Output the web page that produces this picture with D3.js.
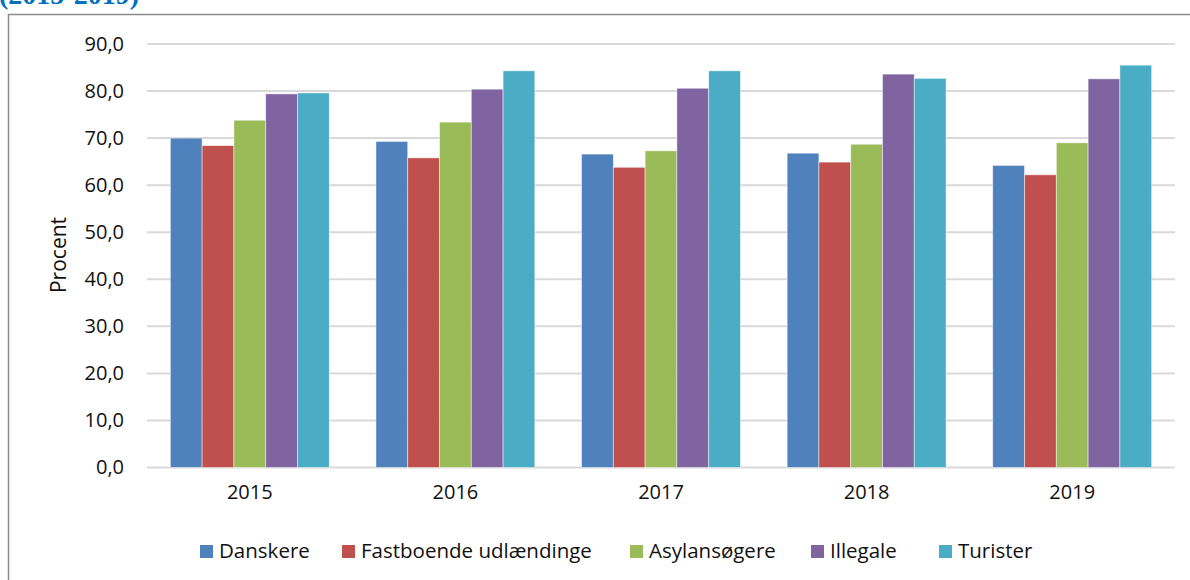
<!DOCTYPE html>
<html>
<head>
<meta charset="utf-8">
<script src="https://cdn.jsdelivr.net/npm/d3@7"></script>
<style>
  body { margin: 0; background: #fff; }
  svg { display: block; font-family: "Open Sans", sans-serif; }
</style>
</head>
<body>
<script>
var years = ["2015", "2016", "2017", "2018", "2019"];
var groups = ["Danskere", "Fastboende udlændinge", "Asylansøgere", "Illegale", "Turister"];
var danskere = [70.0, 69.3, 66.6, 66.8, 64.2];
var fastboende = [68.4, 65.8, 63.8, 64.9, 62.2];
var asyl = [73.8, 73.4, 67.3, 68.7, 69.0];
var illegale = [79.4, 80.4, 80.6, 83.6, 82.6];
var turister = [79.6, 84.3, 84.3, 82.7, 85.5];
var yTicks = [0, 10, 20, 30, 40, 50, 60, 70, 80, 90];

var series = [danskere, fastboende, asyl, illegale, turister];
var colors = ["#4F81BD", "#C0504D", "#9BBB59", "#8064A2", "#4BACC6"];

var width = 1190, height = 580;
var plotLeft = 147, plotRight = 1175, plotTop = 44, plotBottom = 467.5;

var svg = d3.select("body").append("svg")
    .attr("width", width)
    .attr("height", height);

// cut-off heading above the frame
svg.append("text")
    .attr("x", -1)
    .attr("y", 4)
    .attr("font-family", "Liberation Serif, serif")
    .attr("font-weight", "bold")
    .attr("font-size", 28)
    .attr("fill", "#0070C0")
    .text("(2015-2019)");

// chart frame
svg.append("rect")
    .attr("x", 8.5)
    .attr("y", 14.5)
    .attr("width", 1200)
    .attr("height", 600)
    .attr("fill", "none")
    .attr("stroke", "#8c8c8c")
    .attr("stroke-width", 1.5);

var x0 = d3.scaleBand()
    .domain(years)
    .range([plotLeft, plotRight])
    .paddingInner(0.227)
    .paddingOuter(0.1135);

var x1 = d3.scaleBand()
    .domain(d3.range(groups.length))
    .range([0, x0.bandwidth()]);

var y = d3.scaleLinear()
    .domain([0, 90])
    .range([plotBottom, plotTop]);

// gridlines
svg.append("g")
    .selectAll("line")
    .data(yTicks)
    .enter()
    .append("line")
    .attr("x1", plotLeft)
    .attr("x2", plotRight)
    .attr("y1", function(d) { return y(d); })
    .attr("y2", function(d) { return y(d); })
    .attr("stroke", "#d9d9d9")
    .attr("stroke-width", 2);

// y axis labels
var yAxis = d3.axisLeft(y)
    .tickValues(yTicks)
    .tickSize(0)
    .tickPadding(0)
    .tickFormat(function(d) { return d3.format(".1f")(d).replace(".", ","); });

svg.append("g")
    .attr("transform", "translate(124,0)")
    .call(yAxis)
    .call(function(g) { g.select(".domain").remove(); })
    .selectAll("text")
    .attr("font-family", "Open Sans, sans-serif")
    .attr("font-size", 20)
    .attr("fill", "#111");

// x axis labels
var xAxis = d3.axisBottom(x0).tickSize(0).tickPadding(0);
svg.append("g")
    .attr("transform", "translate(0,485)")
    .call(xAxis)
    .call(function(g) { g.select(".domain").remove(); })
    .selectAll("text")
    .attr("font-family", "Open Sans, sans-serif")
    .attr("font-size", 20)
    .attr("fill", "#111");

// bars
var yearG = svg.selectAll(".year")
    .data(years)
    .enter()
    .append("g")
    .attr("class", "year")
    .attr("transform", function(d) { return "translate(" + x0(d) + ",0)"; });

yearG.selectAll("rect")
    .data(function(d, i) {
        return series.map(function(s, j) { return {k: j, v: s[i]}; });
    })
    .enter()
    .append("rect")
    .attr("x", function(d) { return x1(d.k); })
    .attr("width", x1.bandwidth())
    .attr("y", function(d) { return y(d.v); })
    .attr("height", function(d) { return plotBottom - y(d.v); })
    .attr("fill", function(d) { return colors[d.k]; })
    .attr("stroke", "#ffffff")
    .attr("stroke-opacity", 0.6)
    .attr("stroke-width", 0.8);

// y title
svg.append("text")
    .attr("transform", "translate(66,255) rotate(-90)")
    .attr("text-anchor", "middle")
    .attr("font-size", 21)
    .attr("fill", "#111")
    .text("Procent");

// legend
var legendX = [200, 342, 630, 811, 939];
var legend = svg.selectAll(".legend")
    .data(groups)
    .enter()
    .append("g")
    .attr("class", "legend")
    .attr("transform", function(d, i) { return "translate(" + legendX[i] + ",545)"; });

legend.append("rect")
    .attr("width", 13)
    .attr("height", 13)
    .attr("fill", function(d, i) { return colors[i]; });

legend.append("text")
    .attr("x", 19)
    .attr("y", 13)
    .attr("font-size", 20.5)
    .attr("fill", "#111")
    .text(function(d) { return d; });
</script>
</body>
</html>
